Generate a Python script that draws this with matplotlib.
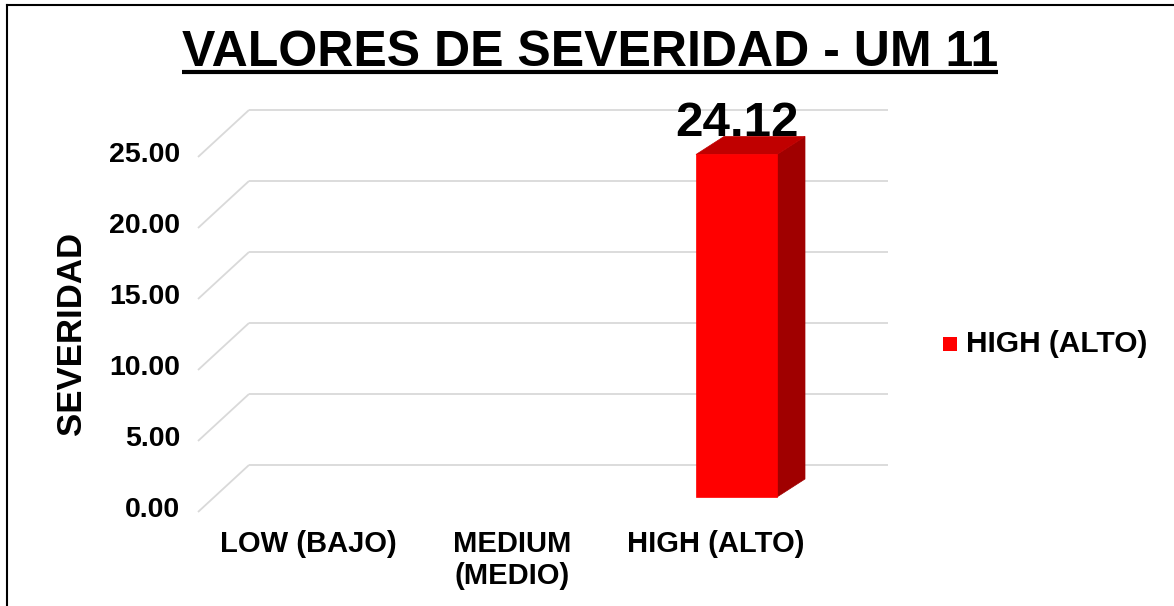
import numpy as np
import matplotlib
matplotlib.use("Agg")
import matplotlib.pyplot as plt
from matplotlib.patches import Polygon, Rectangle
from matplotlib.lines import Line2D

# ---------------- data ----------------
title = "VALORES DE SEVERIDAD - UM 11"
y_label = "SEVERIDAD"
categories = ["LOW (BAJO)", "MEDIUM\n(MEDIO)", "HIGH (ALTO)"]
series_name = "HIGH (ALTO)"
series_values = [np.nan, np.nan, 24.12]
y_ticks = [0, 5, 10, 15, 20, 25]

# ---------------- style ----------------
plt.rcParams['font.family'] = ['Liberation Sans', 'DejaVu Sans']
plt.rcParams['font.weight'] = 'bold'
W, H, DPI = 1174, 606, 100
fig = plt.figure(figsize=(W / DPI, H / DPI), dpi=DPI)
fig.patch.set_facecolor('white')

# front plane of the 3D box (pixels)
L_px, R_px, B_px, T_px = 198, 837, 512, 157
ax = fig.add_axes([L_px / W, 1 - B_px / H, (R_px - L_px) / W, (B_px - T_px) / H])
ax.set_xlim(0, len(categories))
ax.set_ylim(0, y_ticks[-1])
ax.axis('off')

px_x = (R_px - L_px) / len(categories)   # pixels per category
px_y = (B_px - T_px) / y_ticks[-1]        # pixels per value unit
depth_dx = 51 / px_x
depth_dy = 47 / px_y

grid_col = '#d9d9d9'
for v in y_ticks:
    ax.plot([0, depth_dx], [v, v + depth_dy], color=grid_col, lw=1.3,
            clip_on=False, zorder=1, solid_capstyle='butt')
    ax.plot([depth_dx, len(categories) + depth_dx], [v + depth_dy, v + depth_dy],
            color=grid_col, lw=1.3, clip_on=False, zorder=1, solid_capstyle='butt')
    ax.text(-18 / px_x, v + 0.15, f"{v:.2f}", ha='right', va='center',
            fontsize=20.5, fontweight='bold', clip_on=False)

# category labels
for i, c in enumerate(categories):
    ax.text(0.516 + i * 0.958, -18 / px_y, c, ha='center', va='top',
            fontsize=21, fontweight='bold', multialignment='center',
            linespacing=1.2, clip_on=False)

# 3D bars
front_col, top_col, side_col = '#ff0000', '#c00000', '#a00000'
bar_w = 81 / px_x
lift = 15 / px_y
bar_ddx = 28 / px_x
bar_ddy = 18 / px_y
shift = 6 / px_x
for i, v in enumerate(series_values):
    if np.isnan(v):
        continue
    x0 = i + 0.5 + shift - bar_w / 2
    x1 = x0 + bar_w
    b, t = lift, lift + v
    side = Polygon([(x1, b), (x1 + bar_ddx, b + bar_ddy), (x1 + bar_ddx, t + bar_ddy), (x1, t)],
                   closed=True, fc=side_col, ec=side_col, lw=0.5, clip_on=False, zorder=3)
    top = Polygon([(x0, t), (x1, t), (x1 + bar_ddx, t + bar_ddy), (x0 + bar_ddx, t + bar_ddy)],
                  closed=True, fc=top_col, ec=top_col, lw=0.5, clip_on=False, zorder=3)
    front = Polygon([(x0, b), (x1, b), (x1, t), (x0, t)],
                    closed=True, fc=front_col, ec=front_col, lw=0.5, clip_on=False, zorder=4)
    for p in (side, top, front):
        ax.add_patch(p)
    ax.text((x0 + x1) / 2, t + bar_ddy + 0.05, f"{v:.2f}", ha='center', va='baseline',
            fontsize=35.5, fontweight='bold', clip_on=False, zorder=5)

# y-axis label
fig.text(72 / W, 1 - 333 / H, y_label, rotation=90, ha='center', va='center',
         fontsize=25, fontweight='bold')

# legend
sq = 14
fig.patches.append(Rectangle((943 / W, 1 - 351 / H), sq / W, sq / H,
                             transform=fig.transFigure, fc=front_col, ec='none'))
fig.text(966 / W, 1 - 344 / H, series_name, ha='left', va='center',
         fontsize=21.5, fontweight='bold')

# title with underline
t_obj = fig.text(590 / W, 1 - 66 / H, title, ha='center', va='baseline',
                 fontsize=36, fontweight='bold')
fig.canvas.draw()
bb = t_obj.get_window_extent()
uy = (H - 72) / H
fig.add_artist(Line2D([bb.x0 / W, bb.x1 / W], [uy, uy], transform=fig.transFigure,
                      color='black', lw=3, solid_capstyle='butt'))

# outer frame (left and top)
fig.add_artist(Line2D([6.5 / W, 6.5 / W], [0, 1 - 5 / H], transform=fig.transFigure,
                      color='black', lw=1.5))
fig.add_artist(Line2D([6.5 / W, 1], [1 - 5 / H, 1 - 5 / H], transform=fig.transFigure,
                      color='black', lw=1.5))

fig.savefig("out.png", dpi=DPI, facecolor='white')
